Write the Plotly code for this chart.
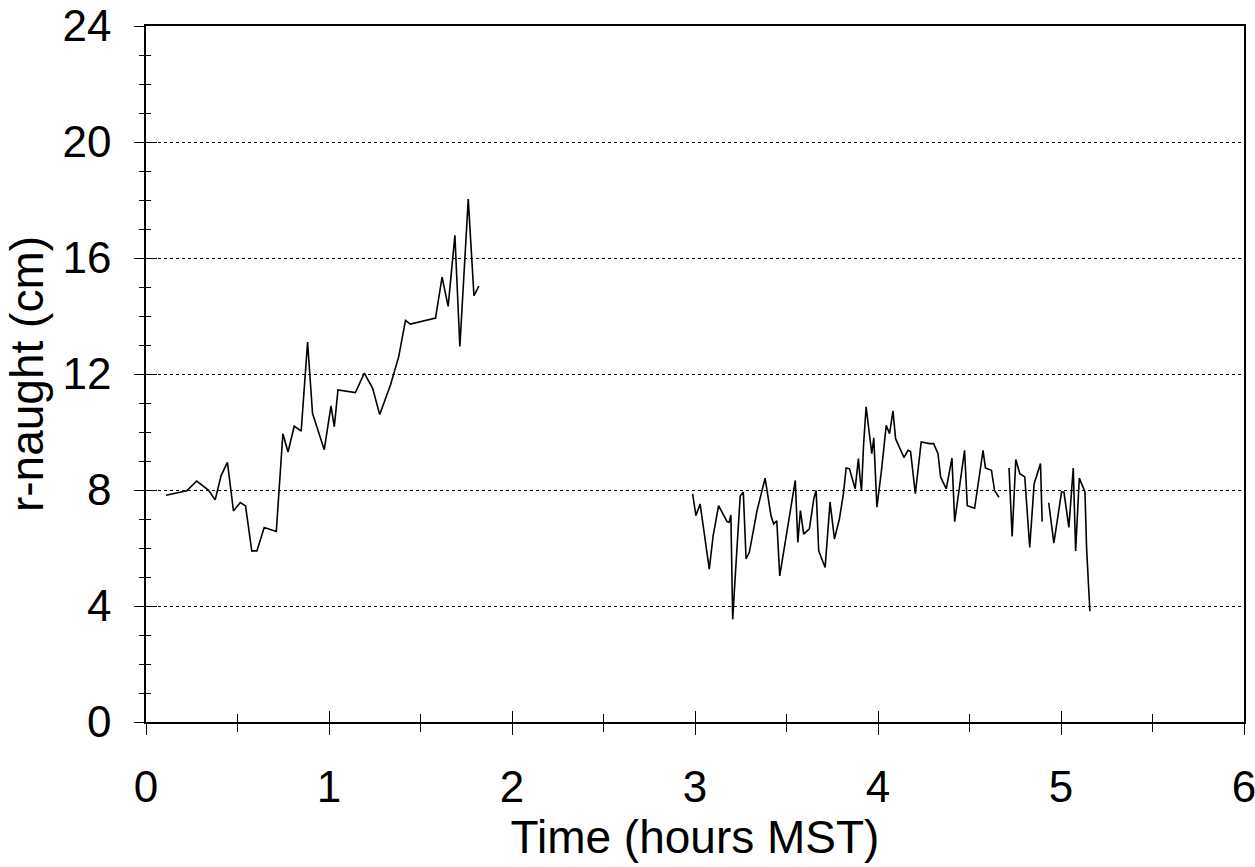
import plotly.graph_objects as go

# Segment A (early period)
time_a = [0.109, 0.223, 0.277, 0.341, 0.378, 0.410, 0.445, 0.478, 0.515, 0.544,
          0.578, 0.606, 0.646, 0.712, 0.748, 0.776, 0.810, 0.848, 0.883, 0.910,
          0.974, 1.011, 1.029, 1.049, 1.144, 1.193, 1.239, 1.277, 1.336, 1.381,
          1.418, 1.445, 1.582, 1.618, 1.651, 1.688, 1.715, 1.746, 1.761, 1.792, 1.819]
r0_a = [7.82, 7.97, 8.31, 8.00, 7.66, 8.49, 8.95, 7.28, 7.57, 7.45,
        5.90, 5.90, 6.71, 6.57, 9.94, 9.31, 10.20, 10.03, 13.10, 10.64,
        9.39, 10.90, 10.18, 11.45, 11.36, 12.03, 11.50, 10.60, 11.62, 12.60,
        13.85, 13.72, 13.93, 15.34, 14.33, 16.78, 12.95, 16.18, 18.03, 14.70, 15.03]

# Segment B (later period, main run)
time_b = [2.987, 3.005, 3.028, 3.078, 3.099, 3.129, 3.175, 3.187, 3.196, 3.206,
          3.220, 3.247, 3.264, 3.279, 3.297, 3.339, 3.383, 3.415, 3.430, 3.447,
          3.463, 3.548, 3.562, 3.576, 3.594, 3.625, 3.649, 3.662, 3.676, 3.711,
          3.738, 3.762, 3.789, 3.811, 3.826, 3.844, 3.875, 3.893, 3.902, 3.910,
          3.921, 3.935, 3.966, 3.977, 3.994, 4.018, 4.045, 4.063, 4.082, 4.096,
          4.142, 4.164, 4.178, 4.204, 4.236, 4.282, 4.304, 4.328, 4.342, 4.373,
          4.404, 4.419, 4.473, 4.488, 4.528, 4.574, 4.587, 4.620, 4.637, 4.661]
r0_b = [7.87, 7.12, 7.52, 5.27, 6.42, 7.46, 6.91, 6.89, 7.14, 3.54,
        5.04, 7.79, 7.93, 5.62, 5.85, 7.29, 8.41, 7.12, 6.83, 6.94,
        5.04, 8.33, 6.19, 7.29, 6.48, 6.66, 7.69, 7.98, 5.90, 5.33,
        7.58, 6.31, 7.00, 7.87, 8.76, 8.73, 8.04, 9.08, 8.39, 7.98,
        9.54, 10.87, 9.25, 9.80, 7.41, 8.62, 10.23, 9.94, 10.73, 9.77,
        9.12, 9.37, 9.33, 7.87, 9.66, 9.60, 9.60, 9.25, 8.45, 8.04,
        9.10, 6.91, 9.37, 7.46, 7.37, 9.37, 8.76, 8.68, 7.98, 7.75]

# Segment C
time_c = [4.716, 4.733, 4.753, 4.775, 4.802, 4.829, 4.853, 4.888, 4.897]
r0_c = [8.76, 6.40, 9.05, 8.56, 8.45, 6.02, 8.21, 8.91, 6.91]

# Segment D
time_d = [4.933, 4.961, 5.003, 5.016, 5.043, 5.067, 5.080, 5.100, 5.131, 5.140, 5.158]
r0_d = [7.56, 6.17, 7.93, 7.93, 6.71, 8.76, 5.90, 8.41, 7.93, 5.96, 3.82]

x_ticks = [0, 1, 2, 3, 4, 5, 6]
y_ticks = [0, 4, 8, 12, 16, 20, 24]

xs, ys = [], []
for t, r in [(time_a, r0_a), (time_b, r0_b), (time_c, r0_c), (time_d, r0_d)]:
    xs += t + [None]
    ys += r + [None]

FONT = "Liberation Sans, Arial, Helvetica, sans-serif"

fig = go.Figure()
fig.add_trace(go.Scatter(x=xs, y=ys, mode="lines", connectgaps=False,
                         line=dict(color="black", width=1.6), showlegend=False,
                         hoverinfo="skip"))
# dummy trace to show the inner half of crossing ticks
fig.add_trace(go.Scatter(x=[None], y=[None], xaxis="x2", yaxis="y2",
                         showlegend=False, hoverinfo="skip"))

axis_common = dict(showline=True, linecolor="black", linewidth=1.5,
                   tickcolor="black", tickwidth=1.2, zeroline=False,
                   automargin=False, ticklabeloverflow="allow")

fig.update_layout(
    width=1255, height=867,
    margin=dict(l=146, r=11, t=26, b=145),
    paper_bgcolor="white", plot_bgcolor="white",
    font=dict(family=FONT, color="black"),
    xaxis=dict(range=[0, 6], tickvals=x_ticks, ticktext=[str(v) for v in x_ticks],
               ticks="outside", ticklen=11, mirror=True, showgrid=False,
               minor=dict(dtick=0.5, tick0=0, ticks="outside", ticklen=8,
                          tickcolor="black", tickwidth=1.2, showgrid=False),
               tickfont=dict(size=44, family=FONT, color="black"),
               ticklabelstandoff=14,
               title=dict(text="Time (hours MST)", standoff=6,
                          font=dict(size=46, family=FONT, color="black")),
               **axis_common),
    yaxis=dict(range=[0, 24], tickvals=y_ticks, ticktext=[str(v) for v in y_ticks],
               ticks="outside", ticklen=10, mirror=True,
               showgrid=True, gridcolor="black", griddash="dot", gridwidth=1,
               minor=dict(dtick=1, tick0=0, ticks="outside", ticklen=5,
                          tickcolor="black", tickwidth=1.2, showgrid=False),
               tickfont=dict(size=44, family=FONT, color="black"),
               ticklabelstandoff=14,
               title=dict(text="r-naught (cm)", standoff=4,
                          font=dict(size=46, family=FONT, color="black")),
               **axis_common),
    xaxis2=dict(range=[0, 6], overlaying="x", anchor="y2", side="bottom",
                tickvals=x_ticks, showticklabels=False, ticks="inside", ticklen=11,
                tickcolor="black", tickwidth=1.2, showgrid=False, zeroline=False,
                showline=False, automargin=False,
                minor=dict(dtick=0.5, tick0=0, ticks="inside", ticklen=8,
                           tickcolor="black", tickwidth=1.2, showgrid=False)),
    yaxis2=dict(range=[0, 24], overlaying="y", anchor="x2", side="left",
                tickvals=y_ticks, showticklabels=False, ticks="inside", ticklen=11,
                tickcolor="black", tickwidth=1.2, showgrid=False, zeroline=False,
                showline=False, automargin=False,
                minor=dict(dtick=1, tick0=0, ticks="inside", ticklen=5,
                           tickcolor="black", tickwidth=1.2, showgrid=False)),
)

fig.write_html("out.html")
